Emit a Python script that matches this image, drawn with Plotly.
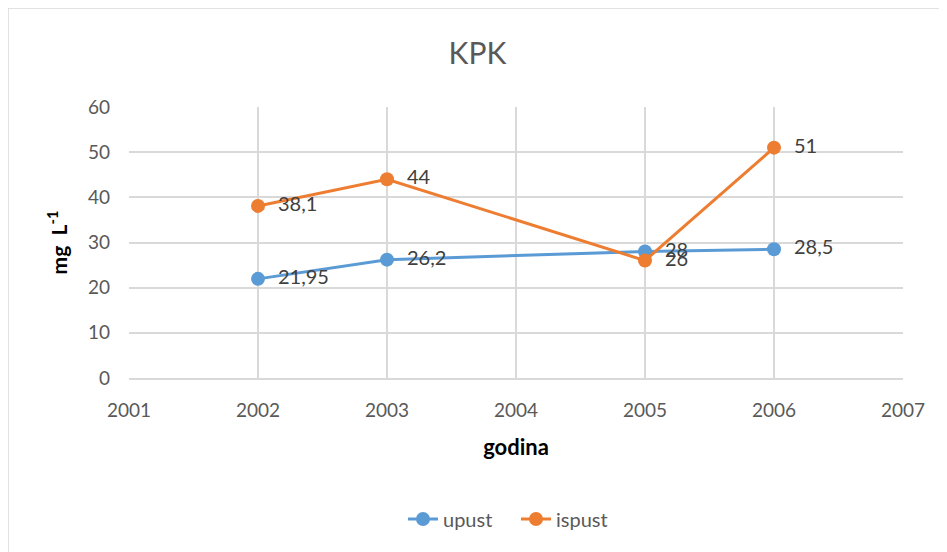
import plotly.graph_objects as go

years = [2002, 2003, 2005, 2006]
upust = [21.95, 26.2, 28, 28.5]
ispust = [38.1, 44, 26, 51]
upust_labels = ["21,95", "26,2", "28", "28,5"]
ispust_labels = ["38,1", "44", "26", "51"]

FONT = "Lato, 'Open Sans', sans-serif"
BLUE = "#5b9bd5"
ORANGE = "#ed7d31"
GREY = "#595959"

fig = go.Figure()
fig.add_trace(go.Scatter(
    x=years, y=upust, name="upust", mode="lines+markers+text",
    line=dict(color=BLUE, width=3), marker=dict(size=14, color=BLUE),
    text=["  " + t for t in upust_labels], textposition="middle right",
    textfont=dict(size=20, color="#404040", family=FONT), cliponaxis=False,
))
fig.add_trace(go.Scatter(
    x=years, y=ispust, name="ispust", mode="lines+markers+text",
    line=dict(color=ORANGE, width=3), marker=dict(size=14, color=ORANGE),
    text=["  " + t for t in ispust_labels], textposition="middle right",
    textfont=dict(size=20, color="#404040", family=FONT), cliponaxis=False,
))

OFF = 8  # page body margin offset
L, R, T, B = 129 - OFF, 903 - OFF, 107 - OFF, 378 - OFF
W, H = 947 - OFF, 552 - OFF
def px(x):
    return (x - OFF - L) / (R - L)
def py(y):
    return (B - (y - OFF)) / (B - T)

fig.update_layout(
    width=W, height=H,
    margin=dict(l=L, r=W - R, t=T, b=H - B),
    paper_bgcolor="white", plot_bgcolor="white",
    font=dict(family=FONT, color=GREY),
    title=dict(text="KPK", x=0.5, xanchor="center", y=1 - (53 - OFF) / H, yanchor="middle",
               font=dict(size=30, color=GREY, family=FONT)),
    xaxis=dict(range=[2001, 2007], dtick=1, showgrid=True, gridcolor="#d9d9d9", gridwidth=1.5,
               zeroline=False, showline=True, linecolor="#d9d9d9", linewidth=1.5,
               tickfont=dict(size=19, color=GREY), ticks="", ticklabelstandoff=14,
               title=dict(text="<b>godina</b>", font=dict(size=22, color="black"), standoff=20)),
    yaxis=dict(range=[0, 60], dtick=10, showgrid=True, gridcolor="#d9d9d9", gridwidth=1.5,
               zeroline=False, showline=False,
               tickfont=dict(size=19, color=GREY), ticks="", ticklabelstandoff=18,
               title=dict(text="<b>mg  L<sup>-1</sup></b>", font=dict(size=21, color="black"), standoff=14)),
    legend=dict(orientation="h", x=0.5, xanchor="center", y=py(519), yanchor="middle",
                font=dict(size=20, color=GREY), entrywidth=68),
    showlegend=True,
    shapes=[
        dict(type="line", xref="paper", yref="paper", x0=px(8), x1=px(947), y0=py(8), y1=py(8),
             line=dict(color="#d9d9d9", width=1.5)),
        dict(type="line", xref="paper", yref="paper", x0=px(8), x1=px(8), y0=py(8), y1=py(552),
             line=dict(color="#d9d9d9", width=1.5)),
    ],
)

fig.write_html("out.html")
